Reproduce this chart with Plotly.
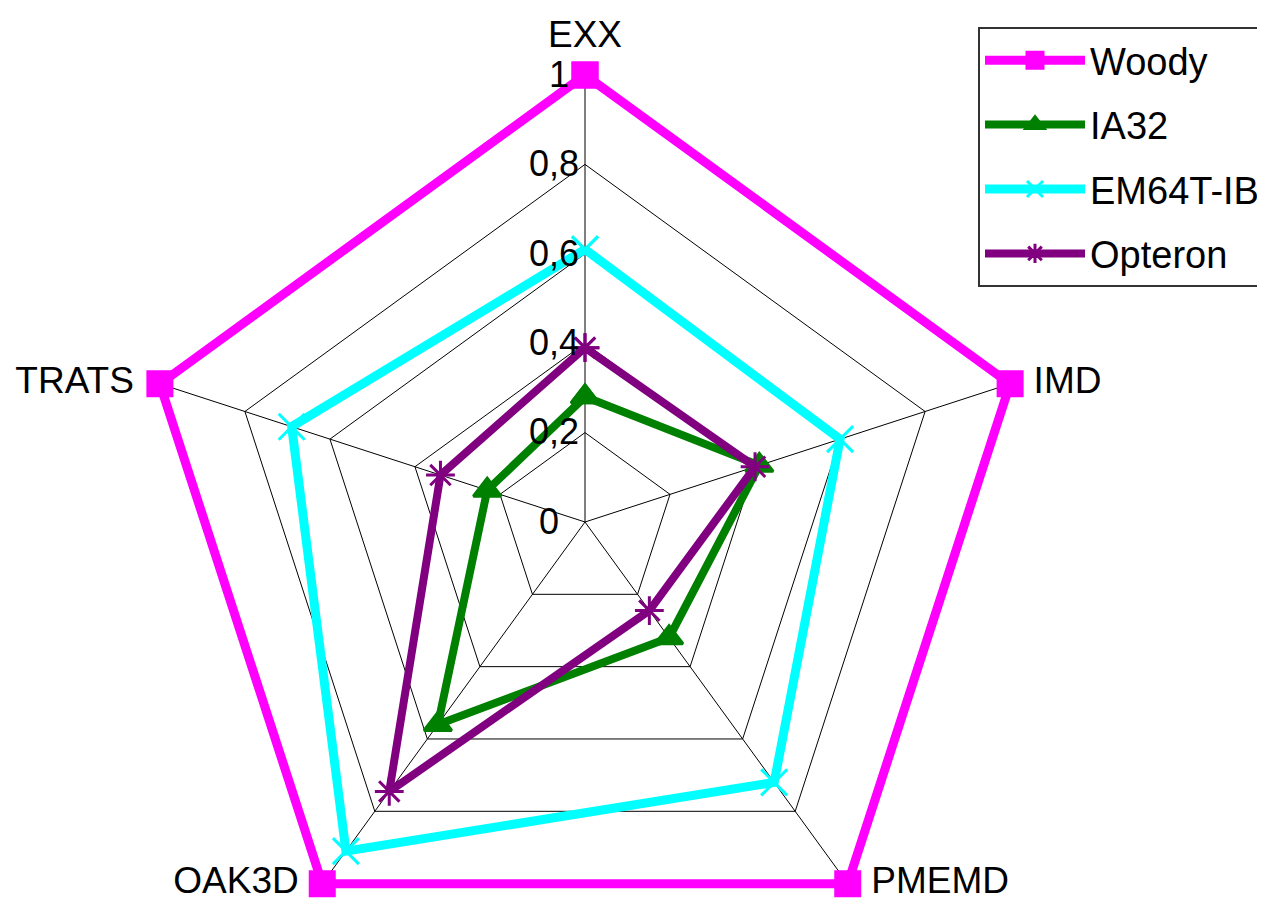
import plotly.graph_objects as go

categories = ["EXX", "IMD", "PMEMD", "OAK3D", "TRATS"]
woody = [1.0, 1.0, 1.0, 1.0, 1.0]
ia32 = [0.28, 0.41, 0.32, 0.56, 0.23]
em64t = [0.61, 0.60, 0.72, 0.91, 0.69]
opteron = [0.39, 0.40, 0.245, 0.745, 0.34]
tick_vals = [0, 0.2, 0.4, 0.6, 0.8, 1]
tick_text = ["0", "0,2", "0,4", "0,6", "0,8", "1"]

FONT = "Arial, Liberation Sans, sans-serif"
NB = "\u00a0"
fig = go.Figure()

series = [
    ("Woody", woody, "#FF00FF", "square", 24, 9),
    ("IA32", ia32, "#008000", "triangle-up", 24, 8),
    ("EM64T-IB", em64t, "#00FFFF", "x-thin-open", 26, 9),
    ("Opteron", opteron, "#800080", "asterisk-open", 24, 8),
]
for name, vals, col, sym, ms, lw in series:
    fig.add_trace(go.Scatterpolar(
        r=vals + [vals[0]], theta=categories + [categories[0]],
        mode="lines+markers", name=name, legendgroup=name,
        line=dict(color=col, width=lw),
        marker=dict(symbol=sym, size=ms, color=col, line=dict(color=col, width=3)),
        cliponaxis=False))

# category labels
lab_pos = ["top center", "middle right", "middle right", "middle left", "middle left"]
fig.add_trace(go.Scatterpolar(r=[1.0] * len(categories), theta=categories,
                              mode="markers+text", text=categories,
                              textposition=lab_pos,
                              marker=dict(size=[28, 36, 36, 36, 40], opacity=0),
                              textfont=dict(family=FONT, size=37, color="black"),
                              showlegend=False, hoverinfo="skip", cliponaxis=False))

# radial tick labels: pad the ones that sit next to markers / the centre
pad = {"0": 2, "1": 1}
tick_labels = [t + NB * pad.get(t, 0) for t in tick_text]

# page body has an 8px margin; compensate
OFF = 8
W, H = 1265, 980
rmin, rmax = 0, 1.02
cx, cy, R1 = 585 - OFF, 522 - OFF, 447
fr = R1 * (rmax - rmin)
fig.update_layout(
    width=W, height=H,
    margin=dict(l=0, r=0, t=0, b=0),
    paper_bgcolor="white",
    font=dict(family=FONT, size=36, color="black"),
    polar=dict(
        domain=dict(x=[(cx - fr) / W, (cx + fr) / W],
                    y=[1 - (cy + fr) / H, 1 - (cy - fr) / H]),
        gridshape="linear",
        bgcolor="white",
        radialaxis=dict(range=[rmin, rmax], tickvals=tick_vals, ticktext=tick_labels,
                        angle=90, side="counterclockwise", tickangle=90,
                        showticklabels=True, ticks="", showline=False,
                        tickfont=dict(family=FONT, size=36, color="black"),
                        gridcolor="black", gridwidth=1),
        angularaxis=dict(direction="clockwise", rotation=90, showgrid=True,
                         gridcolor="black", gridwidth=1,
                         showticklabels=False, ticks="", showline=False,
                         categoryorder="array", categoryarray=categories),
    ),
    legend=dict(x=(978 - OFF) / W, y=1 - (27 - OFF) / H, xanchor="left", yanchor="top",
                bordercolor="#333333", borderwidth=2, bgcolor="white",
                font=dict(family=FONT, size=38), tracegroupgap=12,
                traceorder="grouped", itemwidth=100),
)

fig.write_html("out.html")
